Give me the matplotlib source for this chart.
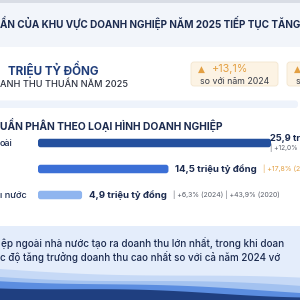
import numpy as np
import matplotlib
matplotlib.use("Agg")
import matplotlib.pyplot as plt
from matplotlib.patches import Rectangle, FancyBboxPatch

plt.rcParams['font.family'] = ['Inter', 'DejaVu Sans']

# --- data read from the infographic (cropped view, visible parts only) ---
header_title = "ẦN CỦA KHU VỰC DOANH NGHIỆP NĂM 2025 TIẾP TỤC TĂNG"
kpi_unit = "TRIỆU TỶ ĐỒNG"
kpi_caption = "ANH THU THUẦN NĂM 2025"
kpi_growth = ["+13,1%", ""]
kpi_growth_note = ["so với năm 2024", "s"]
section_title = "UẦN PHÂN THEO LOẠI HÌNH DOANH NGHIỆP"
categories = ["oài", "", "ı nước"]
revenue = [25.9, 14.5, 4.9]
revenue_labels = ["25,9 tr", "14,5 triệu tỷ đồng", "4,9 triệu tỷ đồng"]
growth_2024 = ["+12,0%", "+17,8%", "+6,3%"]
growth_2024_year = ["", " (2", " (2024)"]
growth_2020 = ["", "", "+43,9% (2020)"]
note_lines = ["ệp ngoài nhà nước tạo ra doanh thu lớn nhất, trong khi doan",
              "c độ tăng trưởng doanh thu cao nhất so với cả năm 2024 vớ"]

NAVY = "#1c2b4f"
BAR_COLORS = ["#24509e", "#3b6fd6", "#8fb5ef"]
ORANGE = "#e3a043"
GRAY = "#5a5f6a"


def main():
    fig = plt.figure(figsize=(3, 3), dpi=100)
    ax = fig.add_axes([0, 0, 1, 1])
    ax.set_xlim(0, 300)
    ax.set_ylim(300, 0)
    ax.axis('off')

    # header band
    ax.add_patch(Rectangle((0, 0), 300, 3, color="#d9dde5", lw=0))
    ax.add_patch(Rectangle((0, 3), 300, 44, color="#f2f5fa", lw=0))
    ax.text(0.5, 23, header_title, fontsize=7.15, fontweight='bold', color=NAVY,
            va='center', ha='left')

    # KPI block
    ax.text(8, 69, kpi_unit, fontsize=8.4, fontweight='bold', color="#1f3d7a",
            va='center')
    ax.text(0.5, 84.5, kpi_caption, fontsize=6.6, fontweight='medium', color="#2d3240",
            va='center')
    for i, x0 in enumerate([191, 287]):
        ax.add_patch(FancyBboxPatch((x0, 62), 87, 24, boxstyle="round,pad=0,rounding_size=3",
                                    fc="#fcf3e4", ec="#f3e6cf", lw=0.6, clip_on=True))
        ax.text(x0 + 10, 69.5, "▲", fontsize=6.5, color=ORANGE, va='center', ha='center',
                family=['DejaVu Sans'])
        if kpi_growth[i]:
            ax.text(x0 + 21, 69.5, kpi_growth[i], fontsize=7.8, color=ORANGE, va='center')
        ax.text(x0 + 9, 81.5, kpi_growth_note[i], fontsize=6.3, color="#3a3f4a", va='center')

    ax.add_patch(FancyBboxPatch((-5, 100.5), 303, 7.5, boxstyle="round,pad=0,rounding_size=3",
                                fc="#eef3fb", ec="none", clip_on=True))

    # section title
    ax.text(0, 125, section_title, fontsize=7.4, fontweight='bold', color=NAVY,
            va='center')

    # bars in their own axes: x in trillion-VND units
    bx = fig.add_axes([38 / 300, (300 - 210) / 300, 262 / 300, 82 / 300])
    px_per_unit = 233 / revenue[0]
    bx.set_xlim(0, 262 / px_per_unit)
    rows = np.arange(len(revenue))
    bx.set_ylim((210 - 143) / 26, (128 - 143) / 26)
    bx.axis('off')
    bx.patch.set_alpha(0)
    bars = bx.barh(rows, revenue, height=8.5 / 26, color=BAR_COLORS)
    aspect = px_per_unit / 26
    for bar, c in zip(bars, BAR_COLORS):
        x, y = bar.get_x(), bar.get_y()
        w, h = bar.get_width(), bar.get_height()
        bar.set_visible(False)
        bx.add_patch(FancyBboxPatch((x, y), w, h,
                                    boxstyle="round,pad=0,rounding_size=%f" % (2.5 / px_per_unit),
                                    mutation_aspect=aspect, fc=c, ec='none'))

    gap = 7 / px_per_unit
    for i, v in enumerate(revenue):
        if i == 0:
            bx.text(v - gap * 0.1, i - 0.17, revenue_labels[i], fontsize=6.7, fontweight='bold',
                    color=NAVY, va='center', clip_on=False)
            bx.text(v - gap * 0.1, i + 0.2, "| " + growth_2024[i], fontsize=4.7,
                    color=GRAY, va='center', clip_on=False)
            continue
        t = bx.text(v + gap, i, revenue_labels[i], fontsize=6.9, fontweight='bold',
                    color=NAVY, va='center', clip_on=False)
        fig.canvas.draw()
        ext = t.get_window_extent().transformed(bx.transData.inverted())
        col = ORANGE if i == 1 else GRAY
        extra = "| " + growth_2024[i] + growth_2024_year[i]
        if growth_2020[i]:
            extra += " | " + growth_2020[i]
        bx.text(ext.x1 + gap * 0.9, i, extra, fontsize=5.0, color=col, va='center',
                clip_on=False)

    # row labels (cropped at left edge)
    for i, lab in enumerate(categories):
        if lab:
            ax.text(0, 143 + 26 * i, lab, fontsize=6.6, fontweight='medium', color=NAVY,
                    va='center')

    # note box
    ax.add_patch(Rectangle((0, 226), 300, 74, color="#e4edfb", lw=0))
    ax.text(1, 243, note_lines[0], fontsize=7.15, fontweight='medium', color=NAVY,
            va='center')
    ax.text(0, 257, note_lines[1], fontsize=7.05, fontweight='medium', color=NAVY,
            va='center')

    # decorative waves at the bottom
    xs = np.linspace(0, 300, 200)
    waves = [
        ("#c6d9f6", 269 + 0.035 * xs + 2.0 * np.sin(xs / 60)),
        ("#a3c2f0", 276 + 0.035 * xs + 2.0 * np.sin(xs / 55 + 0.5)),
        ("#5b8de0", 280 + 0.04 * xs + 1.5 * np.sin(xs / 50 + 1.0)),
        ("#1f3f80", 287 + 0.03 * xs + 1.5 * np.sin(xs / 45 + 1.5)),
    ]
    for color, top in waves:
        ax.fill_between(xs, top, 300, color=color, lw=0)

    fig.savefig("out.png", dpi=100)


if __name__ == '__main__':
    main()
